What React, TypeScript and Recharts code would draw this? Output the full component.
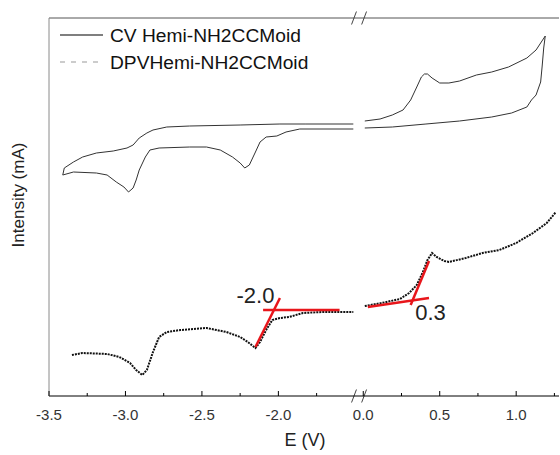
import React from "react"
import { LineChart, Line, XAxis, YAxis, ReferenceLine, ReferenceDot, Legend } from "recharts"

// potentials in V, intensity in arbitrary units (no y ticks in the original)
const cvAnodicE = [0.01, 0.11, 0.19, 0.26, 0.31, 0.35, 0.38, 0.4, 0.42, 0.45, 0.5, 0.56, 0.63, 0.74, 0.84, 0.95, 1.07, 1.13, 1.19]
const cvAnodicI = [2.75, 2.77, 2.81, 2.86, 2.96, 3.09, 3.19, 3.22, 3.22, 3.18, 3.13, 3.13, 3.15, 3.21, 3.24, 3.29, 3.38, 3.46, 3.6]

const cvReturnE = [1.19, 1.18, 1.17, 1.16, 1.13, 1.1, 1.07, 0.97, 0.84, 0.63, 0.41, 0.19, 0.01]
const cvReturnI = [3.6, 3.48, 3.3, 3.14, 3.01, 2.96, 2.89, 2.83, 2.79, 2.75, 2.72, 2.69, 2.68]

const cvCathodicE = [-1.51, -1.86, -1.95, -2.01, -2.08, -2.12, -2.15, -2.19, -2.22, -2.25, -2.3, -2.38, -2.47, -2.58, -2.78, -2.84, -2.87, -2.91, -2.93, -2.95, -2.98, -3.01, -3.06, -3.12, -3.19, -3.34, -3.41]
const cvCathodicI = [2.67, 2.67, 2.64, 2.6, 2.59, 2.54, 2.44, 2.31, 2.28, 2.33, 2.39, 2.46, 2.49, 2.49, 2.48, 2.46, 2.39, 2.26, 2.16, 2.08, 2.04, 2.09, 2.14, 2.21, 2.23, 2.24, 2.21]

const cvReverseE = [-3.41, -3.4, -3.34, -3.28, -3.19, -3.08, -2.99, -2.95, -2.91, -2.86, -2.82, -2.73, -2.58, -2.25, -1.99, -1.82, -1.51]
const cvReverseI = [2.21, 2.28, 2.34, 2.39, 2.43, 2.45, 2.48, 2.51, 2.58, 2.63, 2.66, 2.69, 2.7, 2.71, 2.72, 2.72, 2.72]

const dpvLeftE = [-3.35, -3.28, -3.12, -3.04, -2.97, -2.93, -2.89, -2.86, -2.82, -2.78, -2.73, -2.64, -2.47, -2.34, -2.25, -2.2, -2.15, -2.12, -2.08, -2.04, -1.99, -1.93, -1.84, -1.71, -1.51]
const dpvLeftI = [0.41, 0.43, 0.42, 0.39, 0.33, 0.26, 0.21, 0.26, 0.44, 0.59, 0.64, 0.66, 0.68, 0.64, 0.59, 0.54, 0.48, 0.54, 0.66, 0.76, 0.78, 0.79, 0.83, 0.84, 0.84]

const dpvRightE = [0.01, 0.12, 0.24, 0.3, 0.35, 0.39, 0.42, 0.45, 0.48, 0.53, 0.56, 0.67, 0.78, 0.89, 1.0, 1.11, 1.2, 1.26]
const dpvRightI = [0.9, 0.93, 0.97, 1.03, 1.11, 1.24, 1.36, 1.43, 1.39, 1.35, 1.34, 1.38, 1.43, 1.46, 1.53, 1.63, 1.73, 1.84]

const majorTicks = [-3.5, -3.0, -2.5, -2.0, 0.0, 0.5, 1.0]
const minorTicks = [-3.25, -2.75, -2.25, -1.75, 0.25, 0.75, 1.25]

// onset tangents drawn in red, and their labels
const tangents = [
  { e1: -2.1, i1: 0.86, e2: -1.6, i2: 0.86 },
  { e1: -2.15, i1: 0.49, e2: -1.99, i2: 0.98 },
  { e1: 0.03, i1: 0.89, e2: 0.43, i2: 0.98 },
  { e1: 0.31, i1: 0.91, e2: 0.43, i2: 1.35 },
]
const onsetLabels = [
  { e: -2.15, i: 1.01, text: "-2.0" },
  { e: 0.44, i: 0.84, text: "0.3" },
]

const Y_MAX = 3.78
const X_END = 1.28

// the axis jumps from -1.5 V straight to 0.0 V
const BREAK_LEFT = -1.5
const BREAK_RIGHT = 0.0
const GAP = 0.055
const BREAK_T = BREAK_LEFT + GAP / 2

const toT = (v: number) => (v > BREAK_LEFT ? v - BREAK_RIGHT + BREAK_LEFT + GAP : v)
const fromT = (t: number) => (t > BREAK_T ? t - BREAK_LEFT - GAP + BREAK_RIGHT : t)

const pts = (es: number[], is: number[]) => es.map((e, k) => ({ t: toT(e), y: is[k] }))
const hole = { t: BREAK_T, y: null }

const cvData = [
  ...pts(cvAnodicE, cvAnodicI),
  ...pts(cvReturnE, cvReturnI),
  hole,
  ...pts(cvCathodicE, cvCathodicI),
  ...pts(cvReverseE, cvReverseI),
]
const dpvData = [...pts(dpvLeftE, dpvLeftI), hole, ...pts(dpvRightE, dpvRightI)]

const xTicks = [...majorTicks, ...minorTicks].map(toT).sort((a, b) => a - b)

// "//" marks on the top frame and on the x axis
const breakMarks = [0, Y_MAX].flatMap((yb) =>
  [-0.033, 0.033].map((dx) => [
    { x: BREAK_T + dx - 0.016, y: yb - 0.065 },
    { x: BREAK_T + dx + 0.016, y: yb + 0.065 },
  ])
)

function AxisTick(props: any) {
  const { x, y, payload } = props
  const v = Math.round(fromT(payload.value) * 100) / 100 + 0
  const major = majorTicks.some((m) => Math.abs(m - v) < 1e-6)
  return (
    <g>
      <line x1={x} y1={y} x2={x} y2={y - (major ? 5 : 3)} stroke="#000" />
      {major && (
        <text x={x} y={y + 24} textAnchor="middle" fontSize={15} fill="#333">
          {v.toFixed(1)}
        </text>
      )}
    </g>
  )
}

function ChartLegend() {
  return (
    <svg width={280} height={56} style={{ display: "block" }}>
      <line x1={5} y1={15} x2={48} y2={15} stroke="#000" strokeWidth={1.2} />
      <text x={55} y={15} dominantBaseline="central" fontSize={19.2} fill="#111">
        CV Hemi-NH2CCMoid
      </text>
      <line x1={5} y1={42} x2={48} y2={42} stroke="#999" strokeWidth={1.2} strokeDasharray="5 6" />
      <text x={55} y={42} dominantBaseline="central" fontSize={19.2} fill="#111">
        DPVHemi-NH2CCMoid
      </text>
    </svg>
  )
}

export default function App() {
  return (
    <div
      style={{
        position: "absolute",
        left: 0,
        top: 0,
        width: 560,
        height: 455,
        background: "#fff",
        fontFamily: "Arial, 'Liberation Sans', sans-serif",
      }}
    >
      <LineChart width={560} height={455} margin={{ top: 18, right: 1, bottom: 19, left: 0 }}>
        <XAxis
          type="number"
          dataKey="t"
          domain={[-3.5, toT(X_END)]}
          ticks={xTicks}
          interval={0}
          allowDataOverflow
          height={40}
          tickSize={0}
          tickMargin={0}
          tickLine={false}
          axisLine={{ stroke: "#000" }}
          tick={(p: any) => <AxisTick {...p} />}
          label={() => (
            <text x={305} y={446} textAnchor="middle" fontSize={18} fill="#222">
              E (V)
            </text>
          )}
        />
        <YAxis
          type="number"
          domain={[0, Y_MAX]}
          allowDataOverflow
          width={49}
          tick={false}
          tickLine={false}
          axisLine={{ stroke: "#8a8a8a" }}
          label={() => (
            <text
              x={18}
              y={195}
              transform="rotate(-90 18 195)"
              textAnchor="middle"
              dominantBaseline="central"
              fontSize={17}
              fill="#222"
            >
              Intensity (mA)
            </text>
          )}
        />
        <Legend
          layout="horizontal"
          verticalAlign="middle"
          align="center"
          wrapperStyle={{ left: 55, top: 20, width: 280, height: 56 }}
          content={() => <ChartLegend />}
        />
        <ReferenceLine y={Y_MAX} stroke="#555" />
        {breakMarks.map((seg, k) => (
          <ReferenceLine key={"b" + k} segment={seg} stroke="#444" ifOverflow="visible" />
        ))}
        <Line
          data={cvData}
          dataKey="y"
          type="linear"
          stroke="#333"
          strokeWidth={1}
          dot={false}
          connectNulls={false}
          isAnimationActive={false}
        />
        <Line
          data={dpvData}
          dataKey="y"
          type="linear"
          stroke="#111"
          strokeWidth={2}
          strokeDasharray="2 1"
          dot={false}
          connectNulls={false}
          isAnimationActive={false}
        />
        {tangents.map((s, k) => (
          <ReferenceLine
            key={"r" + k}
            segment={[
              { x: toT(s.e1), y: s.i1 },
              { x: toT(s.e2), y: s.i2 },
            ]}
            stroke="#e8161b"
            strokeWidth={2.5}
            ifOverflow="visible"
          />
        ))}
        {onsetLabels.map((a) => (
          <ReferenceDot
            key={a.text}
            x={toT(a.e)}
            y={a.i}
            r={0}
            fill="none"
            stroke="none"
            label={{ value: a.text, position: "center", fontSize: 22, fill: "#222" }}
          />
        ))}
      </LineChart>
    </div>
  )
}
